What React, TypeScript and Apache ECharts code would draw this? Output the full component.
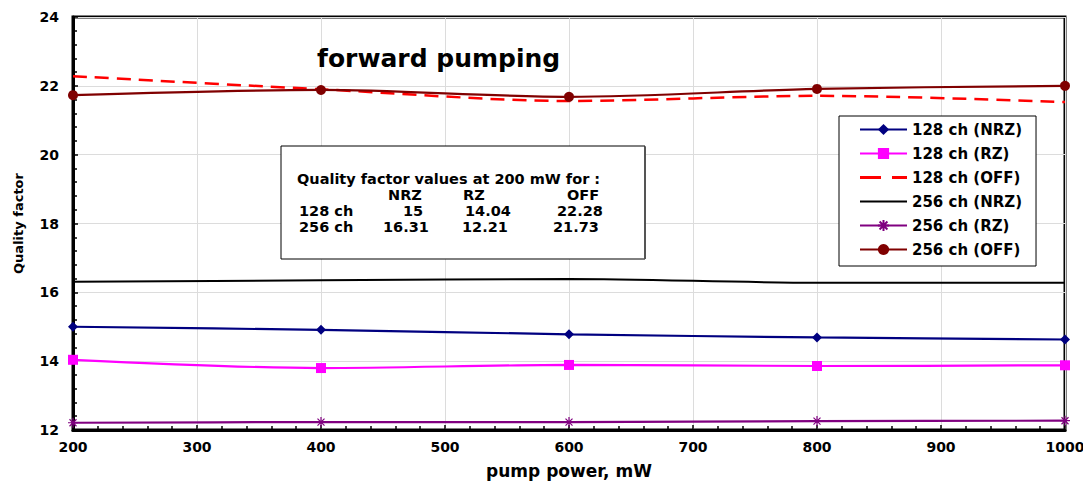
import React, { useEffect, useRef } from "react";
import * as echarts from "echarts";

const pumpPower = [200, 400, 600, 800, 1000];
const nrz128 = [15.0, 14.91, 14.78, 14.69, 14.63];
const rz128 = [14.04, 13.8, 13.89, 13.86, 13.88];
const off128 = [22.28, 21.9, 21.56, 21.71, 21.53];
const nrz256 = [16.31, 16.35, 16.39, 16.28, 16.28];
const rz256 = [12.21, 12.23, 12.23, 12.26, 12.27];
const off256 = [21.73, 21.88, 21.68, 21.91, 22.0];

const seriesNames = ["128 ch (NRZ)", "128 ch (RZ)", "128 ch (OFF)", "256 ch (NRZ)", "256 ch (RZ)", "256 ch (OFF)"];

const boxTitle = "Quality factor values at 200 mW for :";
const boxCols = ["NRZ", "RZ", "OFF"];
const boxRows = [
  ["128 ch", "15", "14.04", "22.28"],
  ["256 ch", "16.31", "12.21", "21.73"],
];

const FONT = "DejaVu Sans";
const ASTERISK = "path://M0,5L10,5M5,0L5,10M1.5,1.5L8.5,8.5M8.5,1.5L1.5,8.5";
const DASH_ICON = "path://M0,0H21V3H0ZM32,0H47V3H32Z";
const LINE_ICON = "path://M0,0H47V2.2H0Z";

function pairs(v: number[]) {
  return pumpPower.map((x, i) => [x, v[i]]);
}

export default function App() {
  const ref = useRef<HTMLDivElement>(null);
  useEffect(() => {
    if (!ref.current) return;
    const chart = echarts.init(ref.current, null, { renderer: "svg" });
    const txt = (text: string, x: number, y: number, size = 14.5) => ({
      type: "text",
      x,
      y,
      style: { text, fill: "#000", font: `bold ${size}px "${FONT}"`, textVerticalAlign: "middle" },
    });
    const boxTexts: any[] = [txt(boxTitle, 297, 179)];
    const colX = [388, 463, 567];
    boxCols.forEach((c, i) => boxTexts.push(txt(c, colX[i], 195)));
    const rowX = [[299, 403, 465, 557], [299, 383, 462, 553]];
    boxRows.forEach((r, ri) => r.forEach((c, ci) => boxTexts.push(txt(c, rowX[ri][ci], 211 + ri * 16))));

    const legendData = seriesNames.map((name, i) => {
      if (i === 2) return { name, icon: DASH_ICON };
      if (i === 3) return { name, icon: LINE_ICON };
      return { name };
    });

    chart.setOption({
      animation: false,
      backgroundColor: "#fff",
      textStyle: { fontFamily: FONT },
      grid: {
        left: 73, right: 18, top: 17, bottom: 52, show: true, borderColor: "#000", borderWidth: 3,
        containLabel: false, outerBoundsMode: "none",
      },
      xAxis: {
        type: "value",
        min: 200,
        max: 1000,
        interval: 100,
        name: "pump power, mW",
        nameLocation: "middle",
        nameGap: 32,
        nameTextStyle: { fontSize: 17, fontWeight: "bold", color: "#000", fontFamily: FONT },
        axisLine: { lineStyle: { color: "#000", width: 3 } },
        axisTick: { inside: true, length: 5, lineStyle: { color: "#000", width: 1.5 } },
        minorTick: { show: true, splitNumber: 5, length: 4, lineStyle: { color: "#000", width: 1.5 } },
        axisLabel: {
          fontSize: 14, fontWeight: "bold", color: "#000", margin: 10, fontFamily: FONT,
          formatter: (v: number) => String(v),
        },
        splitLine: { show: true, lineStyle: { color: "#dcdcdc", width: 1 } },
      },
      yAxis: {
        type: "value",
        min: 12,
        max: 24,
        interval: 2,
        name: "Quality factor",
        nameLocation: "middle",
        nameRotate: 90,
        nameGap: 48,
        nameTextStyle: { fontSize: 13, fontWeight: "bold", color: "#000", fontFamily: FONT },
        axisLine: { lineStyle: { color: "#000", width: 3 } },
        axisTick: { inside: true, length: 5, lineStyle: { color: "#000", width: 1.5 } },
        minorTick: { show: true, splitNumber: 5, length: 4, lineStyle: { color: "#000", width: 1.5 } },
        axisLabel: { fontSize: 14, fontWeight: "bold", color: "#000", margin: 14, fontFamily: FONT },
        splitLine: { show: true, lineStyle: { color: "#dcdcdc", width: 1 } },
      },
      legend: {
        orient: "vertical",
        left: 839,
        top: 116,
        backgroundColor: "#fff",
        borderColor: "#000",
        borderWidth: 1,
        padding: [6, 14, 9, 20],
        itemGap: 9,
        itemWidth: 47,
        itemHeight: 14,
        textStyle: { fontSize: 15, fontWeight: "bold", color: "#000", fontFamily: FONT },
        data: legendData,
      },
      series: [
        {
          name: seriesNames[0], type: "line", smooth: 0.3, data: pairs(nrz128),
          symbol: "diamond", symbolSize: 10, lineStyle: { color: "#000080", width: 2.2 }, itemStyle: { color: "#000080" },
        },
        {
          name: seriesNames[1], type: "line", smooth: 0.3, data: pairs(rz128),
          symbol: "rect", symbolSize: 10, lineStyle: { color: "#FF00FF", width: 2.2 }, itemStyle: { color: "#FF00FF" },
        },
        {
          name: seriesNames[2], type: "line", smooth: 0.3, data: pairs(off128),
          symbol: "none", lineStyle: { color: "#FF0000", width: 2.5, type: [14, 8] }, itemStyle: { color: "#FF0000" },
        },
        {
          name: seriesNames[3], type: "line", smooth: 0.3, data: pairs(nrz256),
          symbol: "none", lineStyle: { color: "#000000", width: 2 }, itemStyle: { color: "#000000" },
        },
        {
          name: seriesNames[4], type: "line", smooth: 0.3, data: pairs(rz256),
          symbol: ASTERISK, symbolSize: 10, lineStyle: { color: "#800080", width: 2.2 },
          itemStyle: { color: "#800080", borderColor: "#800080", borderWidth: 1.2 },
        },
        {
          name: seriesNames[5], type: "line", smooth: 0.3, data: pairs(off256),
          symbol: "circle", symbolSize: 10, lineStyle: { color: "#800000", width: 2.2 }, itemStyle: { color: "#800000" },
        },
      ],
      graphic: [
        {
          type: "rect",
          shape: { x: 281, y: 146, width: 364, height: 113 },
          style: { fill: "#fff", stroke: "#000", lineWidth: 1 },
          z: 10,
        },
        {
          type: "line",
          shape: { x1: 645, y1: 147, x2: 645, y2: 259 },
          style: { stroke: "#555", lineWidth: 2 },
          z: 11,
        },
        ...boxTexts.map((t) => ({ ...t, z: 12 })),
        { ...txt("forward pumping", 317, 58, 25), z: 12 },
      ],
    });
    return () => chart.dispose();
  }, []);
  return <div ref={ref} style={{ position: "fixed", left: 0, top: 0, width: 1083, height: 482 }} />;
}
